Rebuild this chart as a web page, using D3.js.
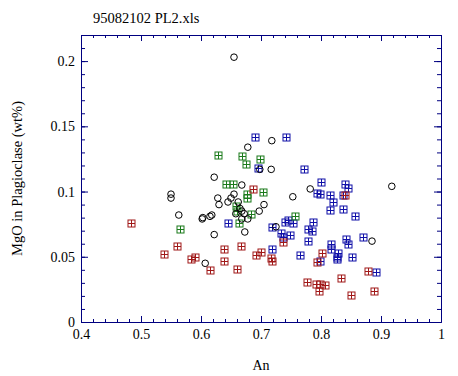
<!DOCTYPE html>
<html>
<head>
<meta charset="utf-8">
<script src="https://cdn.jsdelivr.net/npm/d3@7"></script>
<style>
  body { margin: 0; background: #fff; }
  text { font-family: "Liberation Serif", "DejaVu Serif", serif; }
</style>
</head>
<body>
<div id="chart"></div>
<script>
const width = 458;
const height = 376;

// data: [An, MgO]
const circles = [
  [0.655, 0.203], [0.718, 0.139], [0.678, 0.134], [0.698, 0.117], [0.717, 0.117],
  [0.622, 0.111], [0.668, 0.105], [0.782, 0.102], [0.918, 0.104], [0.753, 0.096],
  [0.550, 0.098], [0.550, 0.095], [0.628, 0.095], [0.650, 0.095], [0.655, 0.098],
  [0.645, 0.092], [0.662, 0.092], [0.630, 0.090], [0.705, 0.090], [0.697, 0.085],
  [0.563, 0.082], [0.658, 0.083], [0.668, 0.085], [0.672, 0.083], [0.602, 0.079],
  [0.603, 0.080], [0.615, 0.081], [0.618, 0.082], [0.668, 0.079], [0.678, 0.079],
  [0.673, 0.069], [0.622, 0.067], [0.725, 0.073], [0.885, 0.062], [0.607, 0.045],
  [0.665, 0.087]
];

const green = [
  [0.628, 0.128], [0.668, 0.127], [0.698, 0.125], [0.675, 0.121], [0.642, 0.106],
  [0.653, 0.106], [0.703, 0.100], [0.677, 0.098], [0.677, 0.095], [0.658, 0.089],
  [0.683, 0.083], [0.663, 0.076], [0.757, 0.081], [0.565, 0.071], [0.660, 0.085]
];

const blue = [
  [0.690, 0.142], [0.742, 0.142], [0.695, 0.118], [0.772, 0.117], [0.800, 0.107],
  [0.840, 0.106], [0.845, 0.103], [0.793, 0.099], [0.798, 0.098], [0.815, 0.097],
  [0.837, 0.097], [0.820, 0.092], [0.815, 0.086], [0.837, 0.087], [0.857, 0.081],
  [0.740, 0.077], [0.745, 0.078], [0.753, 0.076], [0.787, 0.077], [0.645, 0.076],
  [0.718, 0.073], [0.778, 0.071], [0.785, 0.070], [0.733, 0.068], [0.737, 0.065],
  [0.748, 0.067], [0.778, 0.062], [0.842, 0.064], [0.845, 0.060], [0.870, 0.065],
  [0.817, 0.060], [0.817, 0.056], [0.828, 0.053], [0.827, 0.050], [0.827, 0.048],
  [0.852, 0.050], [0.765, 0.051], [0.798, 0.047], [0.718, 0.056], [0.892, 0.038]
];

const red = [
  [0.687, 0.102], [0.840, 0.097], [0.483, 0.076], [0.560, 0.058], [0.538, 0.052],
  [0.583, 0.048], [0.590, 0.050], [0.615, 0.040], [0.638, 0.056], [0.638, 0.047],
  [0.667, 0.058], [0.660, 0.041], [0.692, 0.051], [0.700, 0.054], [0.717, 0.049],
  [0.718, 0.047], [0.737, 0.061], [0.802, 0.053], [0.793, 0.046], [0.878, 0.039],
  [0.777, 0.031], [0.792, 0.029], [0.798, 0.029], [0.807, 0.028], [0.797, 0.024],
  [0.833, 0.034], [0.850, 0.021], [0.888, 0.024]
];

const xTicks = [0.4, 0.5, 0.6, 0.7, 0.8, 0.9, 1];
const yTicks = [0, 0.05, 0.1, 0.15, 0.2];

const axisColor = "#000080";
const margin = { left: 81, right: 17, top: 35, bottom: 54 };

const svg = d3.select("#chart")
  .append("svg")
  .attr("width", width)
  .attr("height", height);

const x = d3.scaleLinear().domain([0.4, 1]).range([margin.left, width - margin.right]);
const y = d3.scaleLinear().domain([0, 0.22]).range([height - margin.bottom, margin.top]);

// ticks on all four sides, pointing inward
const xMinor = d3.range(0.4, 1.0001, 0.02);
const yMinor = d3.range(0, 0.2201, 0.01);

function styleAxis(g) {
  g.select(".domain").attr("stroke", axisColor);
  g.selectAll(".tick line").attr("stroke", axisColor);
}

svg.append("g")
  .attr("transform", `translate(0,${y(0)})`)
  .call(d3.axisBottom(x).tickValues(xMinor).tickSize(-3).tickFormat("").tickSizeOuter(0))
  .call(styleAxis);
svg.append("g")
  .attr("transform", `translate(0,${y(0)})`)
  .call(d3.axisBottom(x).tickValues(xTicks).tickSize(-6).tickPadding(7).tickSizeOuter(0)
    .tickFormat(d => d === 1 ? "1" : d3.format(".1f")(d)))
  .call(styleAxis)
  .call(g => g.selectAll(".tick text").attr("fill", "#000").attr("font-size", 14));

svg.append("g")
  .attr("transform", `translate(0,${y(0.22)})`)
  .call(d3.axisTop(x).tickValues(xMinor).tickSize(-3).tickFormat("").tickSizeOuter(0))
  .call(styleAxis);
svg.append("g")
  .attr("transform", `translate(0,${y(0.22)})`)
  .call(d3.axisTop(x).tickValues(xTicks).tickSize(-6).tickFormat("").tickSizeOuter(0))
  .call(styleAxis);

svg.append("g")
  .attr("transform", `translate(${x(0.4)},0)`)
  .call(d3.axisLeft(y).tickValues(yMinor).tickSize(-4).tickFormat("").tickSizeOuter(0))
  .call(styleAxis);
svg.append("g")
  .attr("transform", `translate(${x(0.4)},0)`)
  .call(d3.axisLeft(y).tickValues(yTicks).tickSize(-7).tickPadding(6).tickSizeOuter(0)
    .tickFormat(d => d === 0 ? "0" : String(+d.toFixed(2))))
  .call(styleAxis)
  .call(g => g.selectAll(".tick text").attr("fill", "#000").attr("font-size", 14));

svg.append("g")
  .attr("transform", `translate(${x(1)},0)`)
  .call(d3.axisRight(y).tickValues(yMinor).tickSize(-4).tickFormat("").tickSizeOuter(0))
  .call(styleAxis);
svg.append("g")
  .attr("transform", `translate(${x(1)},0)`)
  .call(d3.axisRight(y).tickValues(yTicks).tickSize(-7).tickFormat("").tickSizeOuter(0))
  .call(styleAxis);

// markers
function squares(data, color) {
  const g = svg.append("g").attr("stroke", color).attr("fill", "none").attr("stroke-width", 1);
  const s = 3.5;
  const m = g.selectAll("g").data(data).enter().append("g")
    .attr("transform", d => `translate(${Math.round(x(d[0])) + 0.5},${Math.round(y(d[1])) + 0.5})`);
  m.append("rect").attr("x", -s).attr("y", -s).attr("width", 2 * s).attr("height", 2 * s);
  m.append("path").attr("d", `M${-s},0H${s}M0,${-s}V${s}`);
}

squares(blue, "#1010a8");
squares(green, "#1a7a1a");
squares(red, "#a01818");

svg.append("g")
  .selectAll("circle")
  .data(circles)
  .enter()
  .append("circle")
  .attr("cx", d => x(d[0]))
  .attr("cy", d => y(d[1]))
  .attr("r", 3.3)
  .attr("fill", "none")
  .attr("stroke", "#000")
  .attr("stroke-width", 1);

// labels
svg.append("text")
  .attr("x", 93)
  .attr("y", 23)
  .attr("font-size", 14.5)
  .text("95082102 PL2.xls");

svg.append("text")
  .attr("x", x(0.7))
  .attr("y", 370)
  .attr("text-anchor", "middle")
  .attr("font-size", 14)
  .text("An");

svg.append("text")
  .attr("transform", `translate(22,${(y(0) + y(0.22)) / 2}) rotate(-90)`)
  .attr("text-anchor", "middle")
  .attr("font-size", 14.5)
  .text("MgO in Plagioclase (wt%)");
</script>
</body>
</html>
